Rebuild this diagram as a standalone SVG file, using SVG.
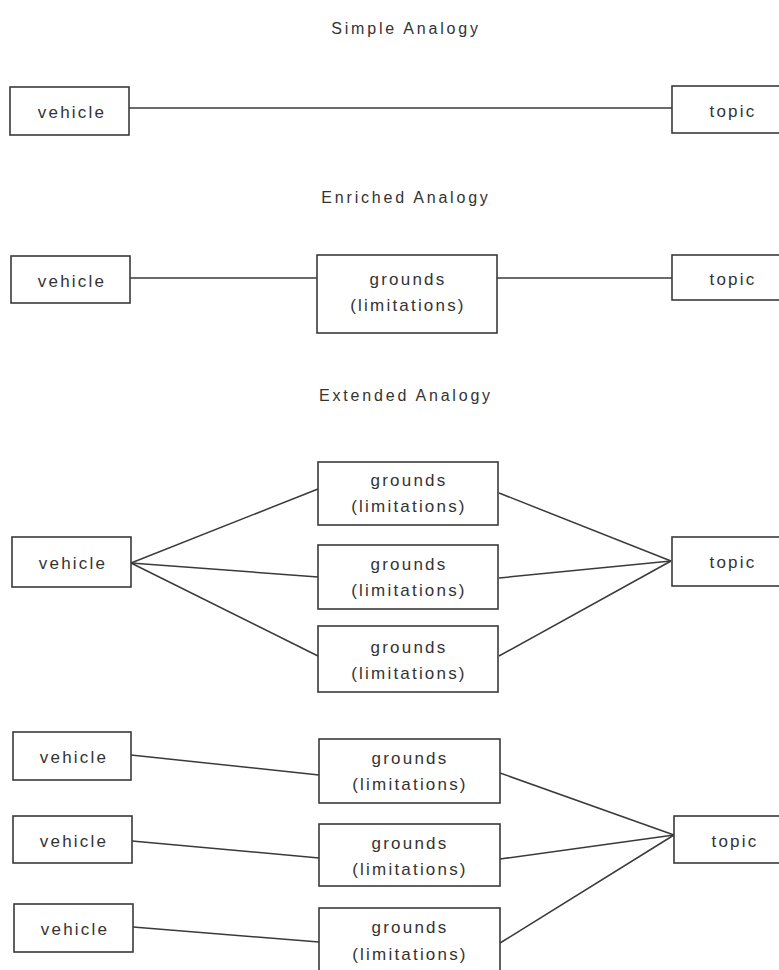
<svg xmlns="http://www.w3.org/2000/svg" width="779" height="970" viewBox="0 0 779 970">
<style>
.bg{fill:#ffffff}
.box{fill:#ffffff;stroke:#3a3a3a;stroke-width:1.6}
.ln{stroke:#3a3a3a;stroke-width:1.5;fill:none}
.t{font-family:"Liberation Sans",Arial,sans-serif;font-size:17px;fill:#333;text-anchor:middle;letter-spacing:2.2px}
.h{font-family:"Liberation Sans",Arial,sans-serif;font-size:16px;fill:#333;text-anchor:middle;letter-spacing:2.8px}
</style>
<rect class="bg" x="0" y="0" width="779" height="970"/>
<g id="titles">
<text class="h" x="406" y="34">Simple Analogy</text>
<text class="h" x="406" y="203">Enriched Analogy</text>
<text class="h" x="406" y="401">Extended Analogy</text>
</g>
<g id="connectors">
<line class="ln" x1="129" y1="108" x2="672" y2="108"/>
<line class="ln" x1="130" y1="278" x2="317" y2="278"/>
<line class="ln" x1="497" y1="278" x2="672" y2="278"/>
<line class="ln" x1="131" y1="563" x2="318" y2="489"/>
<line class="ln" x1="131" y1="563" x2="318" y2="577"/>
<line class="ln" x1="131" y1="563" x2="318" y2="656"/>
<line class="ln" x1="499" y1="493" x2="671" y2="561"/>
<line class="ln" x1="499" y1="578" x2="671" y2="561"/>
<line class="ln" x1="499" y1="656" x2="671" y2="561"/>
<line class="ln" x1="131" y1="755" x2="319" y2="775"/>
<line class="ln" x1="132" y1="841" x2="319" y2="858"/>
<line class="ln" x1="133" y1="927" x2="319" y2="942"/>
<line class="ln" x1="500" y1="773" x2="674" y2="835"/>
<line class="ln" x1="500" y1="859" x2="674" y2="835"/>
<line class="ln" x1="500" y1="943" x2="674" y2="835"/>
</g>
<g id="s1-vehicle"><rect class="box" x="10" y="87" width="119" height="48"/><text class="t" x="72" y="118">vehicle</text></g>
<g id="s1-topic"><rect class="box" x="672" y="86" width="112" height="47"/><text class="t" x="733" y="117">topic</text></g>
<g id="s2-vehicle"><rect class="box" x="11" y="256" width="119" height="47"/><text class="t" x="72" y="287">vehicle</text></g>
<g id="s2-grounds"><rect class="box" x="317" y="255" width="180" height="78"/><text class="t" x="408" y="285">grounds</text><text class="t" x="408" y="311">(limitations)</text></g>
<g id="s2-topic"><rect class="box" x="672" y="255" width="112" height="45"/><text class="t" x="733" y="285">topic</text></g>
<g id="s3-vehicle"><rect class="box" x="12" y="537" width="119" height="50"/><text class="t" x="73" y="569">vehicle</text></g>
<g id="s3-grounds1"><rect class="box" x="318" y="462" width="180" height="63"/><text class="t" x="409" y="486">grounds</text><text class="t" x="409" y="512">(limitations)</text></g>
<g id="s3-grounds2"><rect class="box" x="318" y="545" width="180" height="64"/><text class="t" x="409" y="570">grounds</text><text class="t" x="409" y="596">(limitations)</text></g>
<g id="s3-grounds3"><rect class="box" x="318" y="626" width="180" height="66"/><text class="t" x="409" y="653">grounds</text><text class="t" x="409" y="679">(limitations)</text></g>
<g id="s3-topic"><rect class="box" x="672" y="537" width="112" height="49"/><text class="t" x="733" y="568">topic</text></g>
<g id="s4-vehicle1"><rect class="box" x="13" y="732" width="118" height="48"/><text class="t" x="74" y="763">vehicle</text></g>
<g id="s4-vehicle2"><rect class="box" x="13" y="816" width="119" height="47"/><text class="t" x="74" y="847">vehicle</text></g>
<g id="s4-vehicle3"><rect class="box" x="14" y="904" width="119" height="48"/><text class="t" x="75" y="935">vehicle</text></g>
<g id="s4-grounds1"><rect class="box" x="319" y="739" width="181" height="64"/><text class="t" x="410" y="764">grounds</text><text class="t" x="410" y="790">(limitations)</text></g>
<g id="s4-grounds2"><rect class="box" x="319" y="824" width="181" height="62"/><text class="t" x="410" y="849">grounds</text><text class="t" x="410" y="875">(limitations)</text></g>
<g id="s4-grounds3"><rect class="box" x="319" y="908" width="181" height="66"/><text class="t" x="410" y="933">grounds</text><text class="t" x="410" y="960">(limitations)</text></g>
<g id="s4-topic"><rect class="box" x="674" y="816" width="112" height="47"/><text class="t" x="735" y="847">topic</text></g>
</svg>
